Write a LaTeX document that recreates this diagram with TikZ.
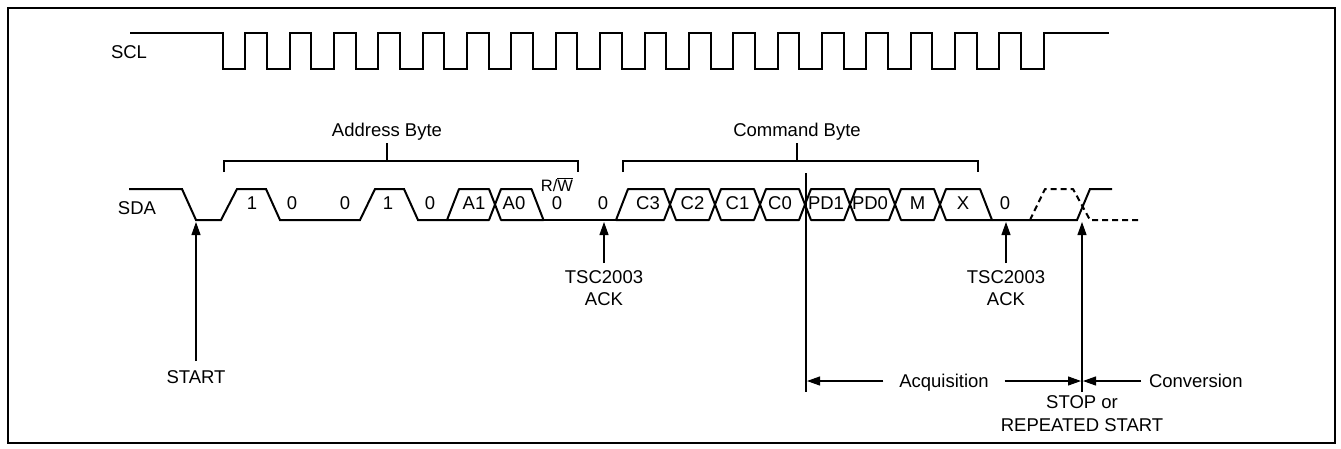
\documentclass[tikz,border=0pt]{standalone}
\usepackage{fontspec}
\setmainfont{Liberation Sans}
\usepackage{tikz}
\usetikzlibrary{positioning, arrows.meta}

\begin{document}
\begin{tikzpicture}[x=1pt, y=-1pt,
  wave/.style={line width=2pt, line join=round},
  thinline/.style={line width=1.1pt},
  arr/.style={line width=1.1pt, -{Triangle[length=13pt,width=9pt]}},
  txt/.style={font=\fontsize{18.5}{22}\selectfont, inner sep=0pt, text height=13.2pt, text depth=0pt},
  pin/.style={font=\fontsize{18.5}{22}\selectfont, align=center, inner sep=0pt, anchor=north}]

\useasboundingbox (0,0) rectangle (1341,448);

% frame
\draw[line width=2pt] (8,8) rectangle (1335,443);

% signal names
\node[txt] (scl) at (129,52) {SCL};
\node[txt] (sda) at (137,208) {SDA};

% SCL clock
\draw[wave, line join=miter] (130,33) -- (223,33) -- (223,69)
  \foreach \k in {0,...,17} { -- ({245.3+44.36*\k},69) -- ({245.3+44.36*\k},33) -- ({222.6+44.36*(\k+1)},33) -- ({222.6+44.36*(\k+1)},69) }
  -- (1043.8,69) -- (1043.8,33) -- (1109,33);

%START and bits 1 0 0 1 0
\draw[wave, line join=miter] (129,189) -- (182,189) -- (196,220) -- (221,220) -- (237,189) -- (266,189) -- (280,220) -- (360,220) -- (375,189) -- (404,189) -- (418,220) -- (447,220);

%A1 and A0
\draw[wave] (447,220) -- (459,189) -- (489,189) -- (495,204.5) -- (489,220) -- cycle;
\draw[wave] (495,204.5) -- (501,189) -- (531.5,189) -- (543.5,220) -- (501,220) -- cycle;

%R/W and ACK
\draw[wave] (543.5,220) -- (616,220);

%C3
\draw[wave] (616,220) -- (628,189) -- (664,189) -- (670,204.5) -- (664,220) -- cycle;

%C2 to M
\foreach \a/\b in {670/715, 715/760, 760/805, 805/850, 850/895, 895/940}
  \draw[wave] (\a,204.5) -- ({\a+6},189) -- ({\b-6},189) -- (\b,204.5) -- ({\b-6},220) -- ({\a+6},220) -- cycle;

%X
\draw[wave] (940,204.5) -- (946,189) -- (980,189) -- (992,220) -- (946,220) -- cycle;

%ACK and STOP
\draw[wave, line join=miter] (992,220) -- (1077,220) -- (1090,189) -- (1112,189);

%repeated start
\draw[wave, dash pattern=on 6pt off 4pt] (1030,220) -- (1045,189) -- (1073,189) -- (1090,220) -- (1138,220);

% bit texts
\node[txt] (bit1) at (252,203) {1};
\node[txt] (bit2) at (292,203) {0};
\node[txt] (bit3) at (345,203) {0};
\node[txt] (bit4) at (388,203) {1};
\node[txt] (bit5) at (430,203) {0};
\node[txt] (bitA1) at (474,203) {A1};
\node[txt] (bitA0) at (514,203) {A0};
\node[txt] (bitrw) at (557,203) {0};
\node[font=\fontsize{16.5}{20}\selectfont, inner sep=0pt, anchor=base] (rw) at (557,191) {R/$\overline{\hbox{W}}$};
\node[txt] (bitack) at (603,203) {0};
\node[txt] (bitC3) at (648,203) {C3};
\node[txt] (bitC2) at (692.5,203) {C2};
\node[txt] (bitC1) at (737.5,203) {C1};
\node[txt] (bitC0) at (780,203) {C0};
\node[txt] (bitPD1) at (826,203) {PD1};
\node[txt] (bitPD0) at (870,203) {PD0};
\node[txt] (bitM) at (917.5,203) {M};
\node[txt] (bitX) at (963,203) {X};
\node[txt] (bitack2) at (1005,203) {0};

% address byte
\node[txt, outer sep=6.7pt] (addr) at (387,130) {Address Byte};
\draw[thinline] (224,172) -- (224,161) -- (578,161) -- (578,172);
\draw[thinline] (addr.south) -- ++(0,18);

% command byte
\node[txt, outer sep=6.7pt] (cmd) at (797,130) {Command Byte};
\draw[thinline] (623,172) -- (623,161) -- (978,161) -- (978,172);
\draw[thinline] (cmd.south) -- ++(0,18);

% START
\coordinate (startpt) at (196,222);
\node[pin, outer sep=10pt] (start) at (196,361) {START};
\draw[arr] (start.north) -- (startpt);

% ACKs
\coordinate (ackpt) at (604,222);
\node[pin, outer sep=8pt] (ack) at (604,263) {TSC2003\\ACK};
\draw[arr] (ack.north) -- (ackpt);

\coordinate (ackpt2) at (1006,222);
\node[pin, outer sep=8pt] (ack2) at (1006,263) {TSC2003\\ACK};
\draw[arr] (ack2.north) -- (ackpt2);

% STOP
\coordinate (stoppt) at (1082,222);
\node[pin, outer sep=4pt] (stop) at (1082,392) {STOP or\\[1pt]REPEATED START};
\draw[arr] (stop.north) -- (stoppt);

% acquisition boundary
\coordinate (acqtop) at (806,173);
\coordinate (acqbot) at (806,392);
\draw[thinline] (acqtop) -- (acqbot);

% ranges
\node[txt, outer sep=16pt] (acq) at (944,381) {Acquisition};
\coordinate (acqL) at (807,381);
\coordinate (acqR) at (1081,381);
\draw[arr] (acq.west) -- (acqL);
\draw[arr] (acq.east) -- (acqR);

\node[txt, outer sep=8pt, anchor=west] (conv) at (1141,381) {Conversion};
\coordinate (convL) at (1083,381);
\draw[arr] (conv.west) -- (convL);

\end{tikzpicture}
\end{document}
